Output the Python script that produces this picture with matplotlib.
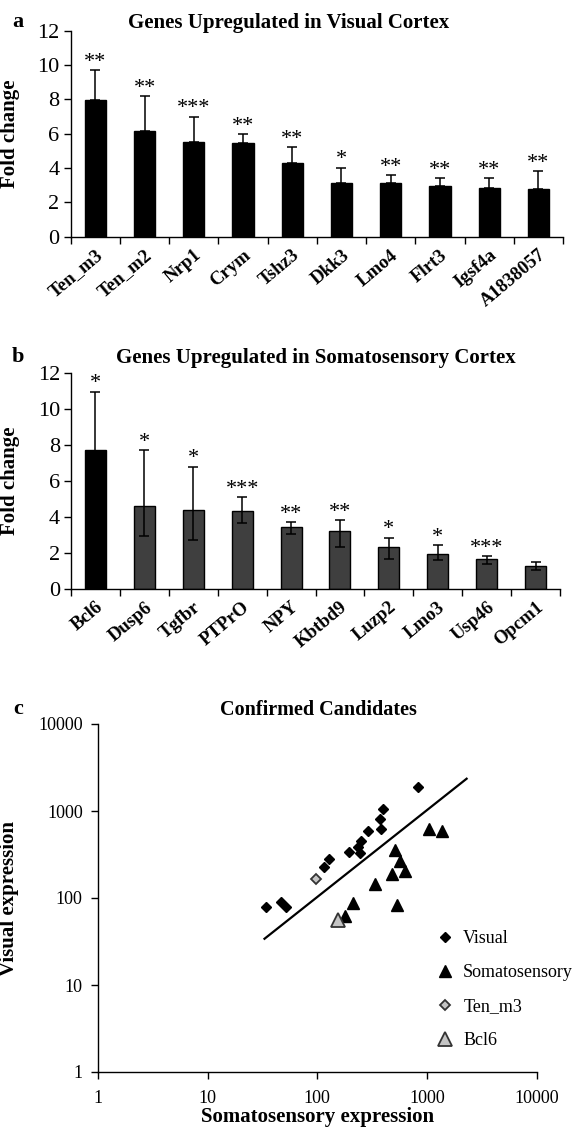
import matplotlib
matplotlib.use("Agg")
import matplotlib.pyplot as plt
from matplotlib.lines import Line2D
import numpy as np

plt.rcParams["font.family"] = ["Liberation Serif", "DejaVu Serif"]

# (a) genes upregulated in visual cortex
genes_a = ["Ten_m3", "Ten_m2", "Nrp1", "Crym", "Tshz3", "Dkk3", "Lmo4",
           "Flrt3", "Igsf4a", "A1838057"]
fold_a = [7.97, 6.13, 5.50, 5.44, 4.28, 3.10, 3.15, 2.96, 2.84, 2.79]
upper_a = [9.72, 8.19, 7.00, 5.99, 5.23, 4.02, 3.59, 3.40, 3.40, 3.83]
stars_a = ["**", "**", "***", "**", "**", "*", "**", "**", "**", "**"]

# (b) genes upregulated in somatosensory cortex
genes_b = ["Bcl6", "Dusp6", "Tgfbr", "PTPrO", "NPY", "Kbtbd9", "Luzp2",
           "Lmo3", "Usp46", "Opcm1"]
fold_b = [7.72, 4.63, 4.39, 4.32, 3.43, 3.21, 2.31, 1.96, 1.64, 1.29]
upper_b = [10.97, 7.71, 6.80, 5.10, 3.70, 3.83, 2.85, 2.43, 1.81, 1.52]
lower_b = [4.47, 2.92, 2.72, 3.65, 3.07, 2.36, 1.68, 1.59, 1.37, 1.03]
stars_b = ["*", "*", "*", "***", "**", "**", "*", "*", "***", ""]

# (c) confirmed candidates
vis_x = [33.8, 46.9, 51.3, 115, 129, 194, 236, 249, 244, 290, 383, 375, 397, 821]
vis_y = [78.7, 89.7, 78.7, 226, 284, 335, 383, 448, 330, 583, 626, 814, 1060, 1905]
som_x = [1047, 1383, 506, 573, 636, 478, 338, 212, 530, 179]
som_y = [620, 583, 353, 269, 203, 189, 143, 88, 84, 62]
tenm3_x, tenm3_y = [97.7], [166]
bcl6_x, bcl6_y = [156], [55.8]
line_x = [33, 2300]
line_y = [34, 2350]
log_ticks = [1, 10, 100, 1000, 10000]

W, H = 576, 1133
fig = plt.figure(figsize=(W / 100, H / 100), dpi=100)


def frac(left, top, right, bottom):
    return [left / W, 1 - bottom / H, (right - left) / W, (bottom - top) / H]


def bar_panel(ax, genes, vals, yerr, stars, colors, edge):
    x = np.arange(len(genes))
    ax.bar(x, vals, width=0.43, color=colors, edgecolor=edge, linewidth=1.0,
           zorder=2)
    ax.errorbar(x, vals, yerr=yerr, fmt="none", ecolor="black", elinewidth=1.1,
                capsize=3.6, capthick=1.1, zorder=3)
    tops = np.asarray(vals) + np.asarray(yerr[1])
    for xi, t, s in zip(x, tops, stars):
        ax.text(xi, t - 0.1, s, ha="center", va="bottom", fontsize=16,
                clip_on=False)
    ax.set_xlim(-0.5, len(genes) - 0.5)
    ax.set_ylim(0, 12)
    ax.set_yticks(range(0, 13, 2))
    ax.set_xticks(np.arange(-0.5, len(genes), 1.0))
    ax.set_xticklabels([])
    ax.set_xticks(x, minor=True)
    ax.set_xticklabels(genes, minor=True, rotation=40, ha="right",
                       rotation_mode="anchor", fontsize=13.5,
                       fontweight="bold")
    ax.tick_params(axis="x", which="major", direction="out", length=5,
                   width=1.0)
    ax.tick_params(axis="x", which="minor", length=0, pad=7)
    ax.tick_params(axis="y", direction="out", length=5, width=1.0,
                   labelsize=16, pad=3)
    for side in ("top", "right"):
        ax.spines[side].set_visible(False)
    for side in ("left", "bottom"):
        ax.spines[side].set_linewidth(1.0)
    ax.set_ylabel("Fold change", fontsize=15, fontweight="bold")
    ax.yaxis.set_label_coords(-0.104, 0.5)


# (a)
ax_a = fig.add_axes(frac(70.7, 30.7, 563, 236.7))
err_a = [np.zeros(len(fold_a)), np.array(upper_a) - np.array(fold_a)]
bar_panel(ax_a, genes_a, fold_a, err_a, stars_a, "black", "black")
fig.text(289 / W, 1 - 23 / H, "Genes Upregulated in Visual Cortex",
         ha="center", va="center", fontsize=15, fontweight="bold")
fig.text(18 / W, 1 - 22 / H, "a", ha="center", va="center", fontsize=16,
         fontweight="bold")

# (b)
ax_b = fig.add_axes(frac(71, 373, 560, 589))
err_b = [np.array(fold_b) - np.array(lower_b),
         np.array(upper_b) - np.array(fold_b)]
cols_b = ["black"] + ["#3f3f3f"] * (len(genes_b) - 1)
bar_panel(ax_b, genes_b, fold_b, err_b, stars_b, cols_b, "black")
fig.text(316 / W, 1 - 358 / H, "Genes Upregulated in Somatosensory Cortex",
         ha="center", va="center", fontsize=15, fontweight="bold")
fig.text(18 / W, 1 - 357 / H, "b", ha="center", va="center", fontsize=16,
         fontweight="bold")

# (c)
ax_c = fig.add_axes(frac(98, 724, 536.6, 1072))
ax_c.set_xscale("log")
ax_c.set_yscale("log")
ax_c.plot(line_x, line_y, color="black", lw=1.6, zorder=1)
ax_c.plot(vis_x, vis_y, ls="none", marker="D", ms=5.2, color="black",
          zorder=3)
ax_c.plot(som_x, som_y, ls="none", marker="^", ms=8.5, color="black",
          zorder=3)
ax_c.plot(tenm3_x, tenm3_y, ls="none", marker="D", ms=5.6, mfc="#c4c4c4",
          mec="#333333", mew=1.3, zorder=4)
ax_c.plot(bcl6_x, bcl6_y, ls="none", marker="^", ms=10, mfc="#c4c4c4",
          mec="#333333", mew=1.3, zorder=4)
ax_c.set_xlim(1, 10000)
ax_c.set_ylim(1, 10000)
ax_c.set_xticks(log_ticks)
ax_c.set_yticks(log_ticks)
ax_c.set_xticklabels([str(t) for t in log_ticks])
ax_c.set_yticklabels([str(t) for t in log_ticks])
ax_c.minorticks_off()
ax_c.tick_params(direction="out", length=5, width=1.0, labelsize=13)
ax_c.tick_params(axis="x", pad=8)
ax_c.tick_params(axis="y", pad=6)
for side in ("top", "right"):
    ax_c.spines[side].set_visible(False)
for side in ("left", "bottom"):
    ax_c.spines[side].set_linewidth(1.0)
ax_c.set_xlabel("Somatosensory expression", fontsize=15, fontweight="bold",
                labelpad=0)
ax_c.set_ylabel("Visual expression", fontsize=15, fontweight="bold")
ax_c.yaxis.set_label_coords(-0.179, 0.5)

handles = [
    Line2D([], [], ls="none", marker="D", ms=5.2, color="black"),
    Line2D([], [], ls="none", marker="^", ms=8.5, color="black"),
    Line2D([], [], ls="none", marker="D", ms=5.6, mfc="#c4c4c4",
           mec="#333333", mew=1.3),
    Line2D([], [], ls="none", marker="^", ms=10, mfc="#c4c4c4",
           mec="#333333", mew=1.3),
]
ax_c.legend(handles, ["Visual", "Somatosensory", "Ten_m3", "Bcl6"],
            loc="upper left", bbox_to_anchor=(0.771, 0.408), frameon=False,
            fontsize=13, handlelength=1.0, handletextpad=0.5,
            labelspacing=0.95, borderpad=0, borderaxespad=0)
fig.text(318 / W, 1 - 710 / H, "Confirmed Candidates", ha="center",
         va="center", fontsize=14.5, fontweight="bold")
fig.text(18 / W, 1 - 709 / H, "c", ha="center", va="center", fontsize=16,
         fontweight="bold")

fig.savefig("out.png", dpi=100)
